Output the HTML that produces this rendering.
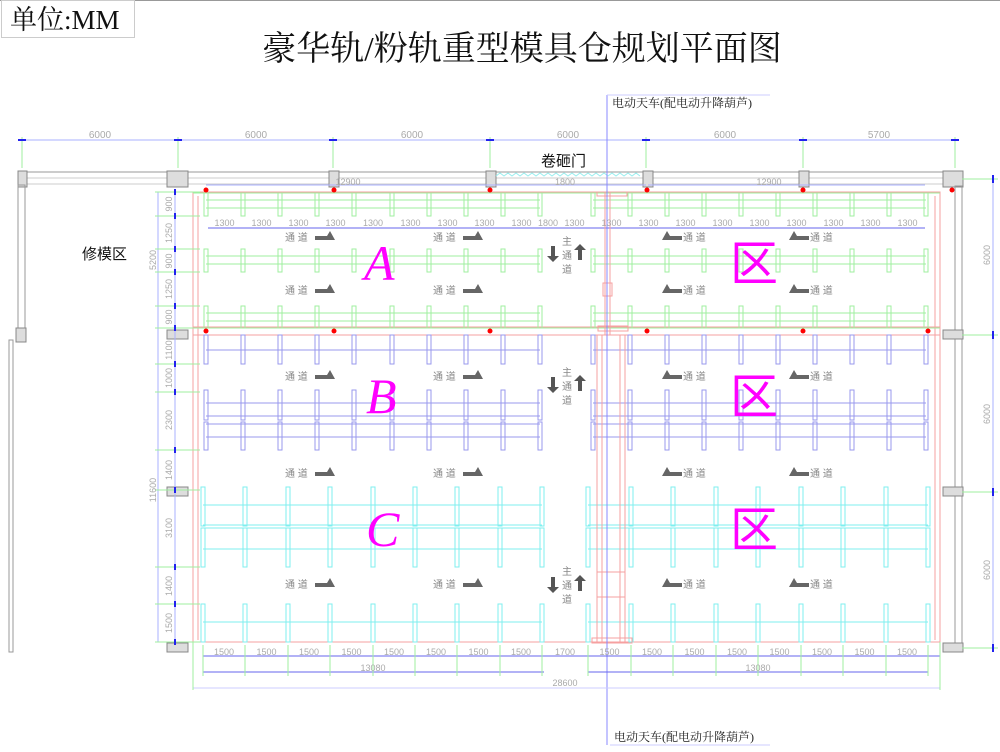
<!DOCTYPE html>
<html><head><meta charset="utf-8">
<style>
html,body{margin:0;padding:0;background:#fff;}
svg{display:block;}
text{font-family:"Liberation Sans","Noto Sans CJK SC",sans-serif;}
.d{font-size:10px;fill:#aaa;}
.td{font-size:10px;fill:#888;}
.z text{font-family:"Liberation Serif","Noto Serif CJK SC",serif;font-style:italic;font-size:50px;fill:#ff00ff;}
</style></head><body>
<svg id="s" width="1000" height="752" viewBox="0 0 1000 752" xmlns="http://www.w3.org/2000/svg">
<line x1="0" y1="0.5" x2="1000" y2="0.5" stroke="#999"/>
<rect x="1.5" y="0.5" width="133" height="37" fill="#fff" stroke="#ccc"/>
<text x="10" y="29" style="font-size:27px;fill:#111;font-family:'Liberation Serif','Noto Serif CJK SC',serif">单位:MM</text>
<text x="522" y="60" text-anchor="middle" style="font-size:34px;fill:#111;font-family:'Liberation Serif','Noto Serif CJK SC',serif">豪华轨/粉轨重型模具仓规划平面图</text>
<g id="g"></g>
<text x="612" y="107" style="font-size:12px;fill:#222;font-family:'Liberation Serif','Noto Serif CJK SC',serif">电动天车(配电动升降葫芦)</text>
<text x="614" y="741" style="font-size:12px;fill:#222;font-family:'Liberation Serif','Noto Serif CJK SC',serif">电动天车(配电动升降葫芦)</text>
<text x="541" y="166" style="font-size:15px;fill:#111">卷砸门</text>
<text x="82" y="259" style="font-size:15px;fill:#111">修模区</text>
<g class="d" text-anchor="middle">
<text x="100" y="138">6000</text><text x="256" y="138">6000</text><text x="412" y="138">6000</text>
<text x="568" y="138">6000</text><text x="725" y="138">6000</text><text x="879" y="138">5700</text>
<text x="348" y="185" style="font-size:9px">12900</text><text x="565" y="185" style="font-size:9px">1800</text><text x="769" y="185" style="font-size:9px">12900</text>
</g>
<g class="z">
<text x="364" y="280">A</text><text x="366" y="413">B</text><text x="366" y="546">C</text>
<text x="730" y="280" style="font-style:normal;font-family:'Noto Sans CJK SC',sans-serif;font-size:48px">区</text>
<text x="730" y="413" style="font-style:normal;font-family:'Noto Sans CJK SC',sans-serif;font-size:48px">区</text>
<text x="730" y="546" style="font-style:normal;font-family:'Noto Sans CJK SC',sans-serif;font-size:48px">区</text>
</g>
<g class="td">
<text x="285" y="241">通 道</text><text x="433" y="241">通 道</text><text x="683" y="241">通 道</text><text x="810" y="241">通 道</text>
<text x="285" y="294">通 道</text><text x="433" y="294">通 道</text><text x="683" y="294">通 道</text><text x="810" y="294">通 道</text>
<text x="285" y="380">通 道</text><text x="433" y="380">通 道</text><text x="683" y="380">通 道</text><text x="810" y="380">通 道</text>
<text x="285" y="477">通 道</text><text x="433" y="477">通 道</text><text x="683" y="477">通 道</text><text x="810" y="477">通 道</text>
<text x="285" y="588">通 道</text><text x="433" y="588">通 道</text><text x="683" y="588">通 道</text><text x="810" y="588">通 道</text>
<text x="562" y="245">主</text><text x="562" y="259">通</text><text x="562" y="273">道</text>
<text x="562" y="376">主</text><text x="562" y="390">通</text><text x="562" y="404">道</text>
<text x="562" y="575">主</text><text x="562" y="589">通</text><text x="562" y="603">道</text>
</g>
<g id="dl" class="d" style="font-size:9px"></g>
</svg>
<script>
var g=document.getElementById('g'),dl=document.getElementById('dl'),NS='http://www.w3.org/2000/svg';
function E(t,a,p){var e=document.createElementNS(NS,t);for(var k in a)e.setAttribute(k,a[k]);(p||g).appendChild(e);return e;}
function L(x1,y1,x2,y2,c,w){E('line',{x1:x1,y1:y1,x2:x2,y2:y2,stroke:c,'stroke-width':w||1});}
function R(x,y,w,h,c,f){E('rect',{x:x,y:y,width:w,height:h,stroke:c,fill:f||'none','stroke-width':1});}
function T(x,y,s,rot){var t=E('text',{x:x,y:y,'text-anchor':'middle'},dl);if(rot)t.setAttribute('transform','rotate(-90 '+x+' '+y+')');t.textContent=s;}
var GR='#9fef9f',BL='#9999ee',CY='#7fefef',RD='#f6a0a0',DB='#2222ee',WG='#999';
L(22,140,955,140,'#aab0ff');[22,178,333,490,646,803,955].forEach(function(x){L(x,137,x,168,GR);E('rect',{x:x-4,y:139,width:8,height:2,fill:DB});});
R(22,172,933,6,WG);R(22,178,933,6,'#ccc');
[[18,171,9,16],[167,171,21,16],[329,171,10,16],[486,171,10,16],[643,171,10,16],[799,171,10,16],[943,171,20,16]].forEach(function(c){R(c[0],c[1],c[2],c[3],'#888','#ddd');});
var p='M496 176';for(var x=496;x<640;x+=8)p+=' l4 -3 l4 3';E('path',{d:p,stroke:'#9ee',fill:'none'});
R(18,185,7,143,WG);R(16,328,10,14,'#888','#ddd');R(9,340,4,312,WG);
[330,487,643].forEach(function(y){R(167,y,21,9,'#888','#ddd');});
R(955,186,7,457,WG);[330,487,643].forEach(function(y){R(943,y,20,9,'#888','#ddd');});
L(993,179,993,648,'#aab0ff');[179,335,492,648].forEach(function(y){L(962,y,998,y,GR);E('rect',{x:992,y:y-4,width:2,height:8,fill:DB});});
T(990,255,'6000',1);T(990,414,'6000',1);T(990,570,'6000',1);
L(206,185,490,185,'#aab0ff');L(490,185,646,185,'#aab0ff');L(648,185,925,185,'#aab0ff');
R(193,192,747,450,RD);L(198,196,198,640,RD);L(935,196,935,640,RD);R(193,327,747,8,RD);
L(158,192,158,642,'#aab0ff');L(175,192,175,642,'#aab0ff');
[192,216,249,272,306,328,364,392,450,490,567,604,642].forEach(function(y){L(155,y,200,y,GR);E('rect',{x:174,y:y-3,width:2,height:6,fill:DB});});
T(172,204,'900',1);T(172,233,'1250',1);T(172,261,'900',1);T(172,289,'1250',1);T(172,317,'900',1);T(156,260,'5200',1);
T(172,350,'1100',1);T(172,378,'1000',1);T(172,420,'2300',1);T(172,470,'1400',1);T(172,528,'3100',1);T(172,586,'1400',1);T(172,623,'1500',1);T(156,490,'11600',1);
function rack(xs,y1,y2,hs,c){xs.forEach(function(x){R(x-2,y1,4,y2-y1,c);});hs.forEach(function(h){L(xs[0],h,xs[xs.length-1],h,c);});}
function seq(a,s,n){var r=[];for(var i=0;i<n;i++)r.push(Math.round(a+i*s));return r;}
var AL=seq(206,37.1,10),AR=seq(593,37,10);
[[193,216,[200,208]],[249,272,[256,264]],[306,328,[313,321]]].forEach(function(r){rack(AL,r[0],r[1],r[2],GR);rack(AR,r[0],r[1],r[2],GR);});
L(193,193,940,193,GR);L(193,328,940,328,GR);
L(208,228,925,228,'#6666ee');
rack(AL,335,364,[350],BL);rack(AR,335,364,[350],BL);
rack(AL,390,420,[403,416],BL);rack(AL,422,450,[424,437],BL);rack(AR,390,420,[403,416],BL);rack(AR,422,450,[424,437],BL);
var CL=seq(203,42.4,9),CR=seq(588,42.5,9);
rack(CL,487,526,[505,525],CY);rack(CL,528,567,[528,549],CY);rack(CR,487,526,[505,525],CY);rack(CR,528,567,[528,549],CY);
rack(CL,604,642,[622],CY);rack(CR,604,642,[622],CY);
L(605,192,605,335,RD);L(610,192,610,335,RD);R(603,283,9,13,RD);R(597,192,30,4,RD);R(598,326,30,5,RD);
R(597,335,28,307,RD);L(602,335,602,642,RD);L(620,335,620,642,RD);R(597,572,28,25,RD);R(592,638,40,5,RD);
L(607,95,607,745,'#8888ff');L(607,95,770,95,'#ccccff');L(610,745,770,745,'#ccccff');
[206,334,490,647,803,952].forEach(function(x){E('circle',{cx:x,cy:190,r:2.5,fill:'#f00'});});
[206,334,490,647,803,928].forEach(function(x){E('circle',{cx:x,cy:331,r:2.5,fill:'#f00'});});
L(203,656,940,656,'#6666ee');L(203,672,544,672,'#6666ee');L(588,672,928,672,'#6666ee');L(193,688,940,688,'#ccccff');
L(193,642,193,690,GR);L(940,642,940,690,GR);
CL.forEach(function(x){L(x,645,x,676,GR);});CR.forEach(function(x){L(x,645,x,676,GR);});
var xs=CL.concat(CR);for(var i=0;i<xs.length-1;i++){T((xs[i]+xs[i+1])/2,655,i==8?'1700':'1500');}
T(373,671,'13080');T(758,671,'13080');T(565,686,'28600');
var ax=AL.concat([556]).concat(AR);for(i=0;i<ax.length-1;i++){T((ax[i]+ax[i+1])/2,226,i==9?'1800':'1300');}
function ar(x,y,dir){if(dir>0)E('polygon',{points:(x)+','+(y-1)+' '+(x+12)+','+(y-1)+' '+(x+15)+','+(y-6)+' '+(x+20)+','+(y+3)+' '+x+','+(y+3),fill:'#666'});
else E('polygon',{points:(x+20)+','+(y-1)+' '+(x+8)+','+(y-1)+' '+(x+5)+','+(y-6)+' '+x+','+(y+3)+' '+(x+20)+','+(y+3),fill:'#666'});}
[237,290,376,473,584].forEach(function(y){ar(315,y,1);ar(463,y,1);ar(662,y,-1);ar(789,y,-1);});
function va(x,y,up){if(up)E('polygon',{points:(x-2)+','+(y+16)+' '+(x-2)+','+(y+6)+' '+(x-6)+','+(y+6)+' '+x+','+y+' '+(x+6)+','+(y+6)+' '+(x+2)+','+(y+6)+' '+(x+2)+','+(y+16),fill:'#555'});
else E('polygon',{points:(x-2)+','+y+' '+(x-2)+','+(y+10)+' '+(x-6)+','+(y+10)+' '+x+','+(y+16)+' '+(x+6)+','+(y+10)+' '+(x+2)+','+(y+10)+' '+(x+2)+','+y,fill:'#555'});}
[246,377,577].forEach(function(y){va(553,y,0);va(580,y-2,1);});
</script>
</body></html>
